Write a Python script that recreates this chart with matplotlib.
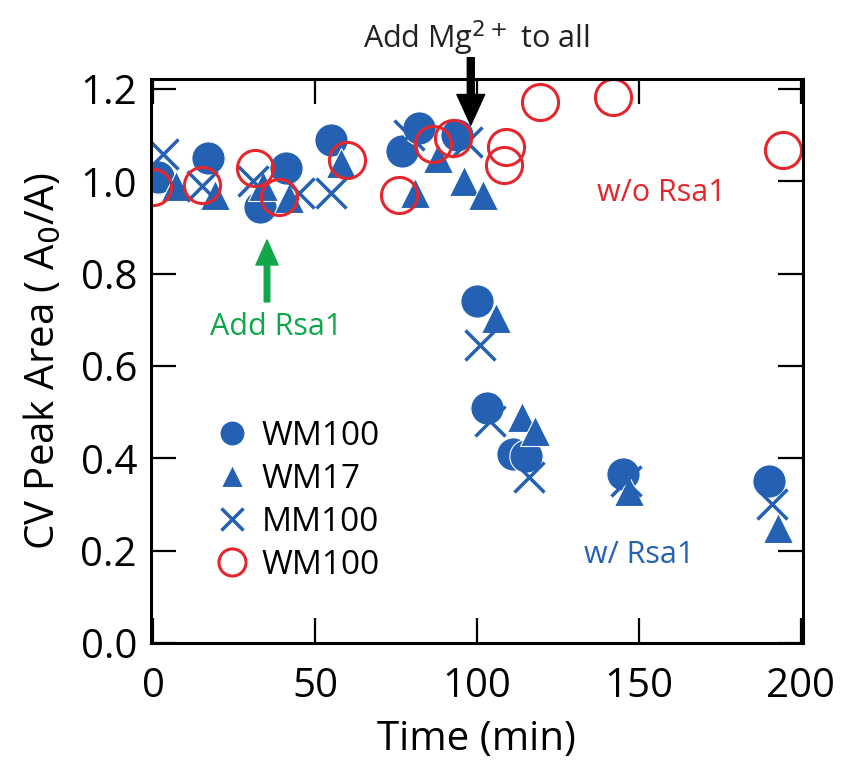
import matplotlib
matplotlib.use('Agg')
import matplotlib.pyplot as plt

# values (time in min, normalised CV peak area)
wm100_t = [1.5, 17, 33, 41, 55, 77, 82, 94, 100, 103, 111, 115, 145, 190]
wm100_y = [1.01, 1.05, 0.945, 1.03, 1.09, 1.065, 1.115, 1.10, 0.74, 0.51, 0.41, 0.405, 0.365, 0.35]

wm17_t = [7, 19, 34, 42, 58, 81, 88, 96, 102, 106, 114, 118, 147, 193]
wm17_y = [0.99, 0.97, 0.99, 0.965, 1.04, 0.975, 1.05, 1.0, 0.97, 0.705, 0.49, 0.46, 0.33, 0.25]

mm100_t = [3, 15, 31, 45, 55, 79, 97, 101, 104, 116, 146, 191]
mm100_y = [1.06, 0.99, 1.0, 0.975, 0.975, 1.10, 1.085, 0.645, 0.48, 0.36, 0.35, 0.30]

ctrl_t = [0, 15, 31.5, 39, 60, 76, 86.5, 92.5, 108.5, 109, 119.5, 142, 194.5]
ctrl_y = [0.988, 0.992, 1.03, 0.967, 1.047, 0.971, 1.08, 1.094, 1.036, 1.075, 1.172, 1.183, 1.068]

blue = '#2461b3'
red = '#e5262d'
green = '#12a64a'

plt.rcParams['font.family'] = ['Open Sans', 'DejaVu Sans']

fig = plt.figure(figsize=(8.46, 7.66), dpi=100)
ax = fig.add_axes([0.1785, 0.1606, 0.7705, 0.7364])

ax.plot(wm100_t, wm100_y, 'o', color=blue, ms=24, mec='white', mew=0.8, ls='none', label='WM100')
ax.plot(wm17_t, wm17_y, '^', color=blue, ms=22, mec='white', mew=0.8, ls='none', label='WM17')
ax.plot(mm100_t, mm100_y, 'x', color=blue, ms=22, mew=2.5, ls='none', label='MM100')
ax.plot(ctrl_t, ctrl_y, 'o', mfc='none', mec=red, ms=26, mew=2.2, ls='none', label='WM100')

ax.set_xlim(-0.6, 200.6)
ax.set_ylim(0, 1.222)
ax.set_xticks([0, 50, 100, 150, 200])
ax.set_yticks([0.0, 0.2, 0.4, 0.6, 0.8, 1.0, 1.2])
ax.set_yticklabels(['0.0', '0.2', '0.4', '0.6', '0.8', '1.0', '1.2'])
ax.tick_params(direction='in', length=18, width=1.6, top=True, right=True, labelsize=29)
ax.tick_params(axis='y', pad=10)
ax.tick_params(axis='x', pad=17)
for s in ax.spines.values():
    s.set_linewidth(2.2)

ax.set_xlabel('Time (min)', fontsize=29, labelpad=9)
ax.set_ylabel('CV Peak Area ( A$_0$/A)', fontsize=29, labelpad=12)

leg = ax.legend(loc='upper left', bbox_to_anchor=(0.07, 0.425), frameon=False,
                fontsize=24, handletextpad=0.35, labelspacing=0.3, markerscale=0.75,
                borderpad=0, handlelength=1.1)

ax.text(157, 0.975, 'w/o Rsa1', color=red, fontsize=22, ha='center', va='center')
ax.text(150, 0.19, 'w/ Rsa1', color=blue, fontsize=22, ha='center', va='center')

# green arrow: Rsa1 added
ax.annotate('', xy=(35.2, 0.873), xytext=(35.2, 0.739),
            arrowprops=dict(color=green, width=4, headwidth=16, headlength=18, shrink=0))
ax.text(38, 0.685, 'Add Rsa1', color=green, fontsize=22, ha='center', va='center')

# black arrow: Mg2+ added
ax.annotate('', xy=(98.1, 1.122), xytext=(98.1, 1.268), annotation_clip=False,
            arrowprops=dict(color='black', width=5, headwidth=20, headlength=22, shrink=0))
ax.text(99.8, 1.31, 'Add Mg$^{2+}$ to all', color='#222222', fontsize=22,
        ha='center', va='center', clip_on=False)

fig.savefig('out.png', dpi=100)
